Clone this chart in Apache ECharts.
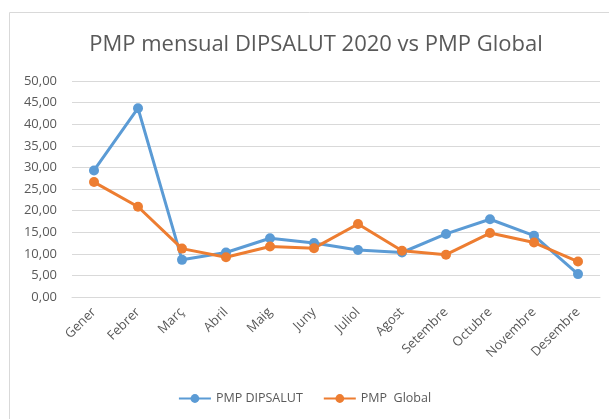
<!DOCTYPE html>
<html lang="ca">
<head>
    <meta charset="UTF-8">
    <title>PMP mensual</title>
    <script src="https://cdn.jsdelivr.net/npm/echarts@6/dist/echarts.min.js"></script>
    <style>
        html, body { margin: 0; padding: 0; background: #fff; }
        #chart { width: 609px; height: 419px; }
    </style>
</head>
<body>
<div id="chart"></div>
<script>
    // dades llegides del gràfic
    const months = ['Gener', 'Febrer', 'Març', 'Abril', 'Maig', 'Juny', 'Juliol', 'Agost', 'Setembre', 'Octubre', 'Novembre', 'Desembre'];
    const pmpDipsalut = [29.3, 43.7, 8.6, 10.3, 13.6, 12.5, 10.9, 10.3, 14.6, 18.0, 14.2, 5.3];
    const pmpGlobal = [26.6, 20.9, 11.2, 9.2, 11.7, 11.3, 16.9, 10.7, 9.8, 14.8, 12.6, 8.2];

    const font = '"Open Sans", "Liberation Sans", sans-serif';
    const grey = '#595959';

    let chart = echarts.init(document.getElementById('chart'));
    let option = {
        animation: false,
        textStyle: { fontFamily: font },
        graphic: [{
            type: 'rect',
            shape: { x: 9.5, y: 12.5, width: 620, height: 440 },
            style: { fill: 'none', stroke: '#d9d9d9', lineWidth: 1 }
        }],
        title: {
            text: 'PMP mensual DIPSALUT 2020 vs PMP Global',
            left: 311,
            textAlign: 'center',
            top: 29,
            textStyle: { fontFamily: font, fontSize: 22, fontWeight: 'normal', color: grey }
        },
        legend: {
            bottom: 9,
            left: 'center',
            itemWidth: 32,
            itemHeight: 11,
            itemGap: 20,
            textStyle: { fontFamily: font, fontSize: 12.5, color: grey },
            data: ['PMP DIPSALUT', 'PMP  Global']
        },
        grid: { left: 72, right: 9, top: 81, bottom: 122, containLabel: false },
        xAxis: {
            type: 'category',
            data: months,
            boundaryGap: true,
            axisLine: { lineStyle: { color: '#d9d9d9' } },
            axisTick: { show: false },
            axisLabel: { rotate: 45, interval: 0, margin: 13, fontSize: 13, color: grey, fontFamily: font }
        },
        yAxis: {
            type: 'value',
            min: 0,
            max: 50,
            interval: 5,
            axisLine: { show: false },
            axisTick: { show: false },
            splitLine: { lineStyle: { color: '#d9d9d9' } },
            axisLabel: {
                margin: 15, fontSize: 13, color: grey, fontFamily: font,
                formatter: v => v.toFixed(2).replace('.', ',')
            }
        },
        series: [{
            name: 'PMP DIPSALUT',
            type: 'line',
            data: pmpDipsalut,
            symbol: 'circle',
            symbolSize: 10,
            lineStyle: { width: 3, color: '#5B9BD5' },
            itemStyle: { color: '#5B9BD5' }
        }, {
            name: 'PMP  Global',
            type: 'line',
            data: pmpGlobal,
            symbol: 'circle',
            symbolSize: 10,
            lineStyle: { width: 3, color: '#ED7D31' },
            itemStyle: { color: '#ED7D31' }
        }]
    };
    chart.setOption(option);
</script>
</body>
</html>
